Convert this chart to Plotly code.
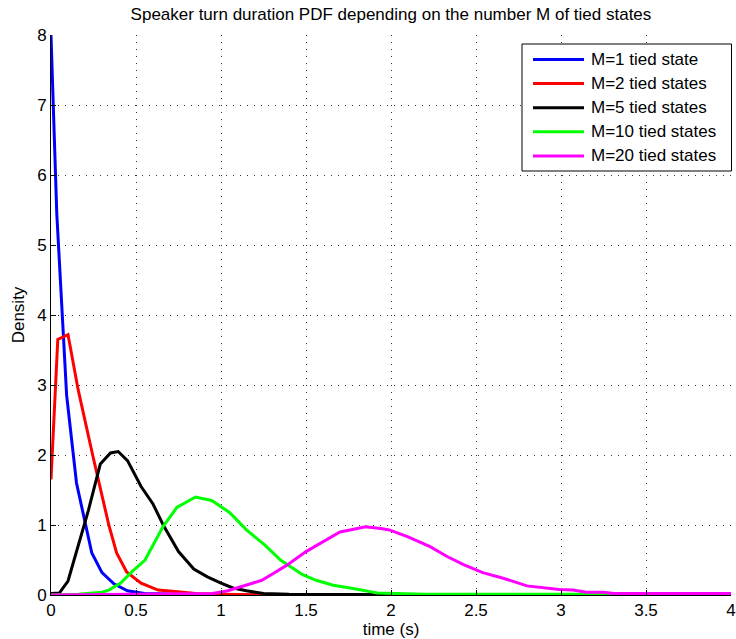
import plotly.graph_objects as go

# Speaker turn duration densities, one curve per number M of tied states
m1_t = [0, 0.034, 0.092, 0.15, 0.24, 0.30, 0.37, 0.45, 0.55, 0.70, 1.0, 4.0]
m1_p = [8.0, 5.45, 2.85, 1.60, 0.60, 0.32, 0.16, 0.06, 0.02, 0.01, 0.0, 0.0]

m2_t = [0, 0.04, 0.10, 0.14, 0.16, 0.245, 0.34, 0.386, 0.445, 0.53, 0.63, 0.73, 0.85, 1.0, 1.3, 4.0]
m2_p = [1.65, 3.65, 3.72, 3.21, 2.93, 2.0, 1.0, 0.60, 0.33, 0.17, 0.07, 0.05, 0.02, 0.01, 0.0, 0.0]

m5_t = [0, 0.05, 0.10, 0.16, 0.22, 0.29, 0.35, 0.395, 0.45, 0.53, 0.60, 0.66, 0.75, 0.84,
        0.92, 1.0, 1.07, 1.15, 1.25, 1.4, 4.0]
m5_p = [0.02, 0.03, 0.20, 0.69, 1.21, 1.87, 2.03, 2.05, 1.92, 1.55, 1.30, 1.0, 0.62, 0.37,
        0.26, 0.17, 0.10, 0.06, 0.02, 0.01, 0.0]

m10_t = [0, 0.16, 0.30, 0.34, 0.41, 0.475, 0.553, 0.66, 0.74, 0.85, 0.945, 1.05, 1.15, 1.26,
         1.35, 1.48, 1.56, 1.66, 1.76, 1.84, 1.92, 2.03, 2.2, 4.0]
m10_p = [0.0, 0.01, 0.04, 0.07, 0.17, 0.33, 0.50, 0.98, 1.25, 1.40, 1.35, 1.18, 0.93, 0.71,
         0.50, 0.29, 0.21, 0.14, 0.10, 0.07, 0.03, 0.02, 0.01, 0.01]

m20_t = [0, 0.5, 0.95, 1.04, 1.15, 1.24, 1.31, 1.39, 1.50, 1.62, 1.70, 1.78, 1.85, 1.94, 1.99,
         2.10, 2.23, 2.33, 2.43, 2.54, 2.66, 2.80, 2.99, 3.07, 3.15, 3.25, 3.31, 4.0]
m20_p = [0.0, 0.01, 0.02, 0.06, 0.14, 0.21, 0.31, 0.43, 0.62, 0.79, 0.90, 0.94, 0.975, 0.95, 0.93,
         0.83, 0.69, 0.55, 0.43, 0.32, 0.24, 0.13, 0.08, 0.07, 0.04, 0.04, 0.02, 0.02]

series = [
    ("M=1 tied state", m1_t, m1_p, "#0000ff"),
    ("M=2 tied states", m2_t, m2_p, "#ff0000"),
    ("M=5 tied states", m5_t, m5_p, "#000000"),
    ("M=10 tied states", m10_t, m10_p, "#00ff00"),
    ("M=20 tied states", m20_t, m20_p, "#ff00ff"),
]

x_ticks = [0, 0.5, 1, 1.5, 2, 2.5, 3, 3.5, 4]
x_labels = ["0", "0.5", "1", "1.5", "2", "2.5", "3", "3.5", "4"]
y_ticks = [0, 1, 2, 3, 4, 5, 6, 7, 8]

FONT = "Liberation Sans, Arial, Helvetica, sans-serif"
FS = 17

W, H = 736, 639
ML, MR, MT, MB = 51, 5, 35, 44
PW, PH = W - ML - MR, H - MT - MB


def px_to_paper(px, py):
    """Convert pixel position in the figure to paper coordinates."""
    return (px - ML) / PW, (H - MB - py) / PH


fig = go.Figure()
for name, t, p, color in series:
    fig.add_trace(go.Scatter(x=t, y=p, mode="lines", name=name, showlegend=False,
                             line=dict(color=color, width=3)))

# Boxed legend in the upper right corner, MATLAB style
shapes = []
annotations = []
x0, y0 = px_to_paper(522, 44)
x1, y1 = px_to_paper(731.5, 171)
shapes.append(dict(type="rect", xref="paper", yref="paper", x0=x0, y0=y0, x1=x1, y1=y1,
                   line=dict(color="black", width=1), fillcolor="white", layer="above"))
for i, (name, _, _, color) in enumerate(series):
    py = 59.5 + 24.1 * i
    lx0, ly = px_to_paper(533, py)
    lx1, _ = px_to_paper(584, py)
    shapes.append(dict(type="line", xref="paper", yref="paper", x0=lx0, x1=lx1, y0=ly, y1=ly,
                       line=dict(color=color, width=3), layer="above"))
    tx, _ = px_to_paper(589, py)
    annotations.append(dict(xref="paper", yref="paper", x=tx, y=ly, text=name,
                            showarrow=False, xanchor="left", yanchor="middle",
                            font=dict(family=FONT, size=FS, color="black")))

axis_common = dict(
    showgrid=True, gridcolor="#333333", gridwidth=1, griddash="1px,6px",
    showline=True, linecolor="black", linewidth=1, mirror=False,
    ticks="inside", ticklen=5, tickcolor="black", zeroline=False,
    automargin=False,
    tickfont=dict(family=FONT, size=FS, color="black"),
)

fig.update_layout(
    width=W, height=H,
    margin=dict(l=ML, r=MR, t=MT, b=MB),
    paper_bgcolor="white", plot_bgcolor="white",
    title=dict(text="Speaker turn duration PDF depending on the number M of tied states",
               x=0.5312, xanchor="center", y=0.978, yanchor="middle",
               font=dict(family=FONT, size=FS, color="black")),
    xaxis=dict(range=[0, 4], tickvals=x_ticks, ticktext=x_labels,
               title=dict(text="time (s)", font=dict(family=FONT, size=FS, color="black"),
                          standoff=1),
               **axis_common),
    yaxis=dict(range=[0, 8], tickvals=y_ticks,
               title=dict(text="Density", font=dict(family=FONT, size=FS, color="black"),
                          standoff=8),
               **axis_common),
    shapes=shapes,
    annotations=annotations,
    showlegend=False,
)

fig.write_html("out.html")
